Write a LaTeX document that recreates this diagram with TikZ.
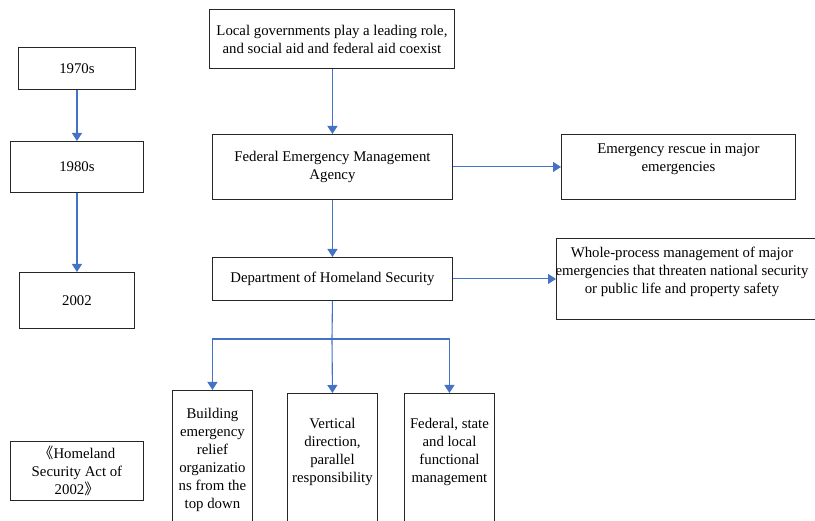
\documentclass[tikz,border=0pt]{standalone}
\usepackage{fontspec}
\setmainfont{Liberation Serif}
\newfontfamily\tnr{Liberation Serif}
\newfontfamily\cjk{Noto Sans CJK SC}
\usetikzlibrary{arrows.meta}
\definecolor{arrowblue}{HTML}{4472C4}
\begin{document}
\begin{tikzpicture}[x=1pt,y=-1pt,
  box/.style={draw=black!85, line width=0.9pt, inner sep=0pt, anchor=north west, align=center, font=\tnr\fontsize{14.8}{18}\selectfont},
  txt/.style={inner sep=0pt, align=center, font=\tnr\fontsize{14.8}{18}\selectfont, anchor=north},
  arr/.style={draw=arrowblue, line width=1.1pt, -{Triangle[width=10pt,length=8pt]}},
  ln/.style={draw=arrowblue, line width=1.1pt}]
\useasboundingbox (0,0) rectangle (815,521);
\clip (0,0) rectangle (815,521);
% left column
\node[box, minimum width=117pt, minimum height=42pt] (n70) at (18,47) {1970s};
\node[box, minimum width=133pt, minimum height=51pt] (n80) at (10,141) {1980s};
\node[box, minimum width=115pt, minimum height=56pt] (n02) at (19,272) {2002};
\node[box, minimum width=133pt, minimum height=59pt] (act) at (10,441) {{\cjk 《}Homeland\\Security Act of\\2002{\cjk 》}};
% centre column
\node[box, minimum width=245pt, minimum height=59pt] (local) at (209,9) {Local governments play a leading role,\\and social aid and federal aid coexist};
\node[box, minimum width=240pt, minimum height=65pt] (fema) at (212,134) {Federal Emergency Management\\Agency};
\node[box, minimum width=240pt, minimum height=43pt] (dhs) at (212,257) {Department of Homeland Security};
% right column
\node[box, minimum width=234pt, minimum height=65pt] (rescue) at (561,134) {};
\node[txt, yshift=-10pt] (rescuetext) at (rescue.north) {Emergency rescue in major\\emergencies};
\node[box, minimum width=280pt, minimum height=81pt] (whole) at (556,238) {};
\node[txt, yshift=-9pt] (wholetext) at (682,238) {Whole-process management of major\\emergencies that threaten national security\\or public life and property safety};
% bottom boxes
\node[box, minimum width=80pt, minimum height=150pt] (b1) at (172,390) {};
\node[txt, yshift=-18pt] (b1text) at (b1.north) {Building\\emergency\\relief\\organizatio\\ns from the\\top down};
\node[box, minimum width=90pt, minimum height=150pt] (b2) at (287,393) {};
\node[txt, yshift=-25pt] (b2text) at (b2.north) {Vertical\\direction,\\parallel\\responsibility};
\node[box, minimum width=90pt, minimum height=150pt] (b3) at (404,393) {};
\node[txt, yshift=-25pt] (b3text) at (b3.north) {Federal, state\\and local\\functional\\management};
% connectors
\draw[arr] (n70) -- (n80);
\draw[arr] (n80) -- (n02);
\draw[arr] (local.south -| fema.north) -- (fema.north);
\draw[arr] (fema.south) -- (dhs.north);
\draw[arr] (fema.east) -- (rescue.west);
\draw[arr] (dhs.east) -- (whole.west);
\coordinate (split) at (332,339);
\draw[ln] (dhs.south) -- (split);
\draw[arr] (split) -| (b1.north);
\draw[arr] (split) -- (b2.north);
\draw[arr] (split) -| (b3.north);
\end{tikzpicture}
\end{document}
